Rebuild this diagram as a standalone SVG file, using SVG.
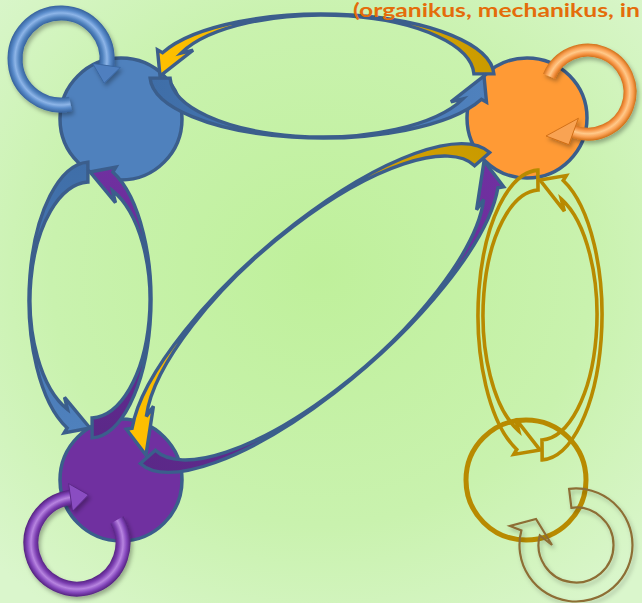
<svg xmlns="http://www.w3.org/2000/svg" xmlns:xlink="http://www.w3.org/1999/xlink" width="642" height="603" viewBox="0 0 642 603">
<style>
.node{stroke:#3B5E8C;stroke-width:3.5}
.arr{stroke:#3B5E8C;stroke-width:3.4;stroke-linejoin:miter}
.gold{fill:url(#gGold)}
.blue{fill:url(#gBlue)}
.purple{fill:url(#gPurple)}
.goldline{fill:none;stroke:#B88A00;stroke-width:3.6}
.loop{fill:none;stroke-linecap:butt}
</style>
<defs>
<radialGradient id="bg" cx="0.5" cy="0.45" r="0.7">
<stop offset="0" stop-color="#BFF09B"/><stop offset="0.6" stop-color="#C9F2AE"/><stop offset="1" stop-color="#DAF6CC"/>
</radialGradient>
<linearGradient id="gGold" x1="1" y1="0" x2="0" y2="0"><stop offset="0" stop-color="#C99A00"/><stop offset="1" stop-color="#FFC000"/></linearGradient>
<linearGradient id="gBlue" x1="1" y1="0" x2="0" y2="0"><stop offset="0" stop-color="#3F6EA8"/><stop offset="1" stop-color="#4F81BD"/></linearGradient>
<linearGradient id="gPurple" x1="1" y1="0" x2="0" y2="0"><stop offset="0" stop-color="#5B2888"/><stop offset="1" stop-color="#7030A0"/></linearGradient>
<radialGradient id="lBlue" gradientUnits="userSpaceOnUse" cx="61" cy="59" r="53.5">
<stop offset="0.70" stop-color="#2F5A94"/><stop offset="0.78" stop-color="#4F81BD"/><stop offset="0.86" stop-color="#8DB5E8"/><stop offset="0.92" stop-color="#5A8CCB"/><stop offset="1" stop-color="#36629C"/>
</radialGradient>
<radialGradient id="lOrange" gradientUnits="userSpaceOnUse" cx="588" cy="92" r="48.5">
<stop offset="0.71" stop-color="#C8640E"/><stop offset="0.79" stop-color="#F79646"/><stop offset="0.86" stop-color="#FFC98A"/><stop offset="0.93" stop-color="#F9A052"/><stop offset="1" stop-color="#D06F18"/>
</radialGradient>
<radialGradient id="lPurple" gradientUnits="userSpaceOnUse" cx="77" cy="543" r="53.5">
<stop offset="0.70" stop-color="#4E1F78"/><stop offset="0.78" stop-color="#7A3DB0"/><stop offset="0.86" stop-color="#B784E0"/><stop offset="0.93" stop-color="#8447BC"/><stop offset="1" stop-color="#54237F"/>
</radialGradient>
<filter id="shadow" x="-20%" y="-20%" width="140%" height="140%">
<feDropShadow dx="2" dy="3" stdDeviation="2" flood-color="#000" flood-opacity="0.3"/>
</filter>
<filter id="soft" x="-20%" y="-20%" width="140%" height="140%">
<feGaussianBlur stdDeviation="0.6"/>
<feDropShadow dx="2" dy="3" stdDeviation="2" flood-color="#000" flood-opacity="0.25"/>
</filter>
<path id="aTop" d="M171.9,2.16 A172,62 0 0 1 -159.47,23.23 L-164.5,26.2 L-162,0 L-128.9,25.9 L-140.93,22.85 A152,61 0 0 0 151.91,2.13 Z"/>
<path id="aLeft" d="M137.92,2.13 A138,61 0 0 1 -127.95,22.85 L-132.95,25.85 L-128,0 L-97.41,25.48 L-109.41,22.48 A118,60 0 0 0 117.93,2.09 Z"/>
<path id="aDiag" d="M233.86,2.72 A234,78 0 0 1 -216.96,29.22 L-221.96,32.22 L-224,0 L-186.42,31.84 L-198.42,28.84 A214,77 0 0 0 213.87,2.69 Z"/>
<path id="aRight" d="M144.91,2.16 A145,62 0 0 1 -134.44,23.23 L-139.44,26.23 L-135,0 L-103.9,24.35 L-115.9,21.35 A125,57 0 0 0 124.92,1.99 Z"/>
</defs>
<rect x="0" y="0" width="642" height="603" fill="url(#bg)"/>
<g id="node-blue"><circle class="node" cx="121" cy="119" r="61" fill="#4F81BD"/></g>
<g id="node-orange"><circle class="node" cx="527" cy="118" r="60" fill="#FF9A35"/></g>
<g id="node-purple"><circle class="node" cx="121" cy="480" r="61" fill="#7030A0"/></g>
<g id="node-gold"><circle cx="526" cy="480" r="60" fill="none" stroke="#B88A00" stroke-width="5"/></g>
<g id="connectors">
<g transform="translate(322,76) scale(1,-1)">
<use xlink:href="#aTop" class="arr gold"/>
<use xlink:href="#aTop" class="arr blue" transform="rotate(180)"/>
</g>
<g transform="translate(90,300) rotate(-90) scale(1,-1)">
<use xlink:href="#aLeft" class="arr blue"/>
<use xlink:href="#aLeft" class="arr purple" transform="rotate(180)"/>
</g>
<g transform="translate(315,308) rotate(-41) scale(1,-1)">
<use xlink:href="#aDiag" class="arr gold"/>
<use xlink:href="#aDiag" class="arr purple" transform="rotate(180)"/>
</g>
<g transform="translate(540,315) rotate(-90) scale(1,-1)">
<use xlink:href="#aRight" class="goldline"/>
<use xlink:href="#aRight" class="goldline" transform="rotate(180)"/>
</g>
<g id="loop-blue" filter="url(#shadow)">
<path class="loop" d="M70.6,104 A46,46 0 1 1 106.6,65.4" stroke="url(#lBlue)" stroke-width="15"/>
<polygon points="92.7,63.5 120.4,67.4 104.1,83.2" fill="#4F7FBF" stroke="#36629C" stroke-width="0.8"/>
</g>
<g id="loop-orange" filter="url(#shadow)">
<path class="loop" d="M549.1,76.3 A42,42 0 1 1 573.6,131.5" stroke="url(#lOrange)" stroke-width="13"/>
<polygon points="578.4,118.3 568.8,144.6 546,136" fill="#F9A352" stroke="#C8640E" stroke-width="0.8"/>
</g>
<g id="loop-purple" filter="url(#shadow)">
<path class="loop" d="M116.8,520 A46,46 0 1 1 70.6,497.4" stroke="url(#lPurple)" stroke-width="15"/>
<polygon points="72.5,511.3 68.6,483.6 88.4,494.9" fill="#8A4DC2" stroke="#54237F" stroke-width="0.8"/>
</g>
<g id="loop-gold" filter="url(#soft)">
<path d="M569.1,488.9 A56.5,56.5 0 1 1 521.4,530.4 L510,526 L536,519 L552,545 L539.8,535.3 A37.5,37.5 0 1 0 571.4,507.8 Z" fill="none" stroke="#8D6E35" stroke-width="2.2"/>
</g>
</g>
<text x="353" y="17" font-family="Lato, 'Liberation Sans', sans-serif" font-weight="bold" font-size="18" fill="#E46C0A" textLength="287" lengthAdjust="spacingAndGlyphs">(organikus, mechanikus, in</text>
</svg>
